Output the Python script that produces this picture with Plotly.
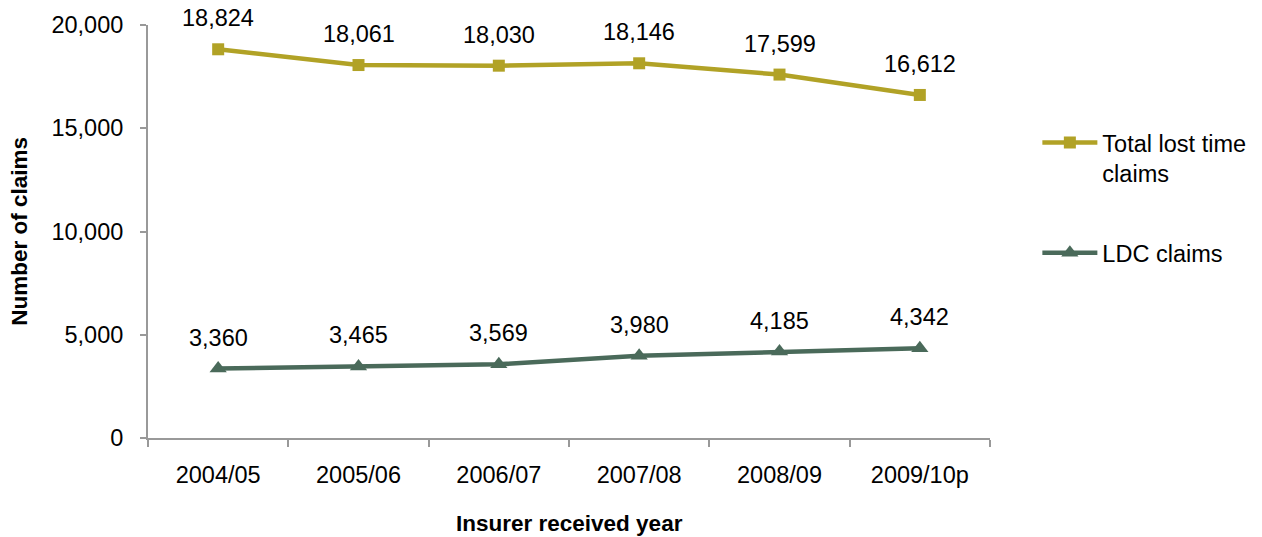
import plotly.graph_objects as go

years = ["2004/05", "2005/06", "2006/07", "2007/08", "2008/09", "2009/10p"]
total_lost_time = [18824, 18061, 18030, 18146, 17599, 16612]
ldc_claims = [3360, 3465, 3569, 3980, 4185, 4342]
y_ticks = [0, 5000, 10000, 15000, 20000]

GOLD = "#B1A226"
GREEN = "#4A6A5A"
AXIS = "#999999"
FONT = "Liberation Sans, Arial, sans-serif"
TXT = 23.5

fig = go.Figure()

fig.add_trace(go.Scatter(
    x=years, y=total_lost_time, name="Total lost time<br>claims",
    mode="lines+markers",
    line=dict(color=GOLD, width=4.5),
    marker=dict(symbol="square", size=12, color=GOLD),
    legendgroup="a",
))
fig.add_trace(go.Scatter(
    x=years, y=ldc_claims, name="LDC claims",
    mode="lines+markers",
    line=dict(color=GREEN, width=4.5),
    marker=dict(symbol="triangle-up", size=15, color=GREEN),
    legendgroup="b",
))

# value labels above each point
for series in (total_lost_time, ldc_claims):
    for cat, val in zip(years, series):
        fig.add_annotation(
            x=cat, y=val, text=f"{val:,}", showarrow=False,
            yshift=31, font=dict(size=TXT, color="#000000", family=FONT),
        )

fig.add_annotation(
    xref="paper", yref="paper", x=-0.153, xanchor="center", y=0.5, yanchor="middle",
    text="<b>Number of claims</b>", textangle=-90, showarrow=False,
    font=dict(size=22.5, color="#000000", family=FONT),
)
fig.add_annotation(
    xref="paper", yref="paper", x=0.5, xanchor="center", y=-0.207, yanchor="middle",
    text="<b>Insurer received year</b>", showarrow=False,
    font=dict(size=22.5, color="#000000", family=FONT),
)

fig.update_layout(
    width=1262, height=537,
    margin=dict(l=148, r=271, t=25, b=99),
    paper_bgcolor="white", plot_bgcolor="white",
    font=dict(family=FONT, size=TXT, color="#000000"),
    showlegend=True,
    legend=dict(
        x=1.055, y=0.768, xanchor="left", yanchor="top",
        font=dict(size=TXT, color="#000000", family=FONT),
        tracegroupgap=46, itemwidth=55, valign="top",
        bgcolor="rgba(0,0,0,0)",
    ),
    xaxis=dict(
        type="category", range=[-0.5, 5.5],
        showline=True, linecolor=AXIS, linewidth=2,
        ticks="outside", tickson="boundaries", ticklen=7, tickcolor=AXIS, tickwidth=2,
        showgrid=False, zeroline=False,
        tickfont=dict(size=TXT, family=FONT, color="#000000"),
        ticklabelstandoff=15,
    ),
    yaxis=dict(
        range=[0, 20000], tickvals=y_ticks, tickformat=",d",
        showline=True, linecolor=AXIS, linewidth=2,
        ticks="outside", ticklen=6, tickcolor=AXIS, tickwidth=2,
        showgrid=False, zeroline=False,
        tickfont=dict(size=TXT, family=FONT, color="#000000"),
        ticklabelstandoff=12,
    ),
)

fig.write_html("out.html")
